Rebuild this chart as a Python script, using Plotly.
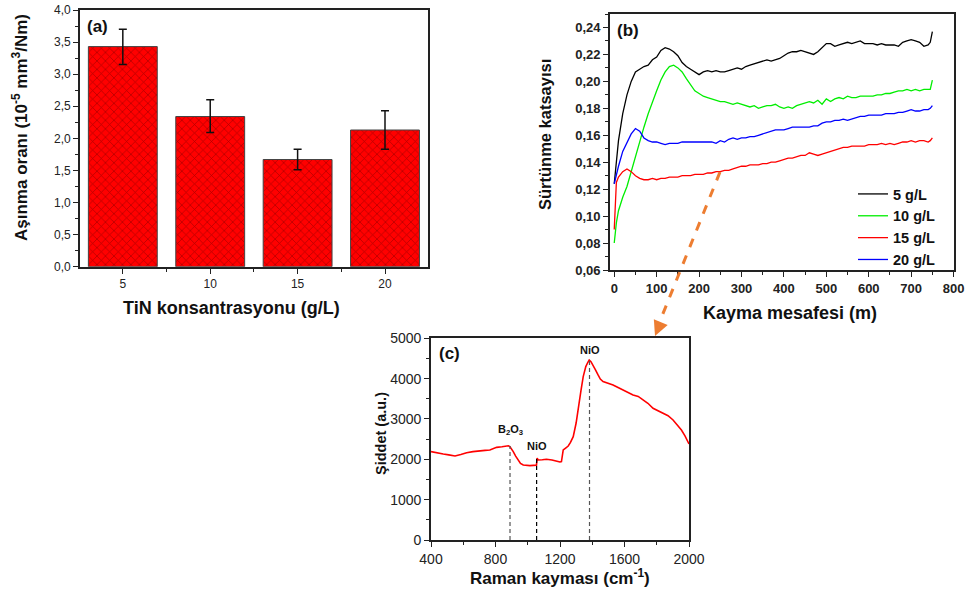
import plotly.graph_objects as go

# ---------------- data ----------------
# (a) wear rate
conc = [5, 10, 15, 20]
wear_rate = [3.43, 2.34, 1.67, 2.13]
wear_err_plus = [0.27, 0.26, 0.16, 0.30]
wear_err_minus = [0.28, 0.25, 0.16, 0.30]

# (b) friction coefficient vs sliding distance
dist = [0, 5, 10, 20, 30, 40, 50, 60, 70, 80, 90, 100, 110, 120, 130, 140, 150, 160, 170, 180,
        190, 200, 210, 220, 230, 240, 250, 260, 270, 280, 290, 300, 310, 320, 330, 340, 350, 360,
        370, 380, 390, 400, 410, 420, 430, 440, 450, 460, 470, 480, 490, 500, 510, 520, 530, 540,
        550, 560, 570, 580, 590, 600, 610, 620, 630, 640, 650, 660, 670, 680, 690, 700, 710, 720,
        730, 740, 745, 750]
mu_5 = [0.124, 0.142, 0.156, 0.176, 0.190, 0.200, 0.207, 0.209, 0.211, 0.212, 0.216, 0.218, 0.223,
        0.225, 0.224, 0.222, 0.219, 0.214, 0.211, 0.209, 0.207, 0.205, 0.207, 0.208, 0.207, 0.208,
        0.207, 0.207, 0.208, 0.209, 0.210, 0.209, 0.211, 0.212, 0.213, 0.214, 0.215, 0.216, 0.215,
        0.216, 0.217, 0.219, 0.221, 0.222, 0.222, 0.223, 0.222, 0.221, 0.220, 0.222, 0.225, 0.228,
        0.228, 0.226, 0.227, 0.228, 0.229, 0.228, 0.229, 0.230, 0.228, 0.228, 0.228, 0.227, 0.228,
        0.227, 0.227, 0.227, 0.226, 0.229, 0.230, 0.231, 0.230, 0.229, 0.226, 0.227, 0.229, 0.237]
mu_10 = [0.080, 0.095, 0.104, 0.114, 0.122, 0.133, 0.145, 0.156, 0.166, 0.176, 0.185, 0.193, 0.201,
         0.207, 0.211, 0.212, 0.210, 0.207, 0.202, 0.197, 0.193, 0.191, 0.189, 0.188, 0.187, 0.186,
         0.185, 0.185, 0.184, 0.183, 0.184, 0.183, 0.182, 0.181, 0.182, 0.180, 0.181, 0.182, 0.182,
         0.183, 0.181, 0.180, 0.181, 0.180, 0.182, 0.183, 0.184, 0.185, 0.184, 0.186, 0.183, 0.187,
         0.185, 0.187, 0.188, 0.187, 0.189, 0.188, 0.188, 0.189, 0.189, 0.189, 0.189, 0.190, 0.190,
         0.191, 0.191, 0.192, 0.193, 0.193, 0.194, 0.193, 0.194, 0.193, 0.194, 0.194, 0.194, 0.201]
mu_15 = [0.090, 0.125, 0.129, 0.133, 0.135, 0.133, 0.130, 0.128, 0.127, 0.127, 0.128, 0.127, 0.128,
         0.128, 0.129, 0.129, 0.129, 0.130, 0.130, 0.130, 0.131, 0.131, 0.131, 0.132, 0.132, 0.133,
         0.133, 0.134, 0.134, 0.135, 0.136, 0.137, 0.137, 0.138, 0.138, 0.138, 0.139, 0.139, 0.140,
         0.140, 0.141, 0.142, 0.143, 0.143, 0.144, 0.145, 0.145, 0.147, 0.146, 0.145, 0.146, 0.147,
         0.148, 0.149, 0.150, 0.151, 0.151, 0.152, 0.152, 0.152, 0.152, 0.153, 0.153, 0.153, 0.154,
         0.153, 0.154, 0.153, 0.154, 0.155, 0.155, 0.156, 0.155, 0.156, 0.156, 0.155, 0.156, 0.158]
mu_20 = [0.124, 0.131, 0.137, 0.148, 0.155, 0.161, 0.165, 0.163, 0.158, 0.156, 0.155, 0.155, 0.154,
         0.153, 0.154, 0.154, 0.154, 0.155, 0.155, 0.155, 0.155, 0.155, 0.155, 0.155, 0.155, 0.154,
         0.156, 0.155, 0.157, 0.158, 0.157, 0.158, 0.158, 0.159, 0.159, 0.160, 0.161, 0.162, 0.163,
         0.164, 0.164, 0.164, 0.165, 0.166, 0.166, 0.166, 0.166, 0.166, 0.167, 0.167, 0.169, 0.170,
         0.170, 0.171, 0.171, 0.172, 0.171, 0.172, 0.173, 0.174, 0.174, 0.175, 0.175, 0.175, 0.175,
         0.176, 0.176, 0.176, 0.177, 0.177, 0.178, 0.179, 0.178, 0.178, 0.179, 0.179, 0.180, 0.182]
series_names = ["5 g/L", "10 g/L", "15 g/L", "20 g/L"]
series_colors = ["#000000", "#00EE00", "#FF0000", "#0000FF"]

# (c) Raman spectrum
raman_shift = [400, 440, 476, 510, 549, 585, 621, 660, 703, 735, 765, 790, 807, 840, 869, 880,
               889, 900, 910, 925, 941, 955, 972, 990, 1013, 1035, 1054, 1058, 1065, 1090, 1116,
               1150, 1178, 1200, 1209, 1215, 1220, 1235, 1251, 1265, 1282, 1300, 1313, 1330, 1344,
               1360, 1372, 1381, 1392, 1405, 1420, 1436, 1450, 1467, 1500, 1529, 1560, 1591, 1620,
               1653, 1685, 1715, 1745, 1777, 1810, 1839, 1870, 1901, 1930, 1953, 1975, 2000]
raman_int = [2190, 2150, 2132, 2110, 2083, 2120, 2165, 2190, 2215, 2222, 2231, 2260, 2297, 2310,
             2330, 2335, 2314, 2260, 2190, 2080, 1983, 1900, 1860, 1845, 1843, 1850, 1851, 2030,
             1983, 1990, 2000, 1985, 1950, 1935, 1942, 2150, 2231, 2280, 2330, 2420, 2562, 2900,
             3306, 3700, 4050, 4300, 4400, 4463, 4420, 4339, 4220, 4091, 3990, 3926, 3880, 3843,
             3780, 3719, 3660, 3595, 3560, 3471, 3390, 3264, 3200, 3157, 3080, 2975, 2850, 2727,
             2580, 2380]
peak_pos = [890, 1055, 1383]
peak_top = [2330, 2030, 4450]
peak_label = ["B<sub>2</sub>O<sub>3</sub>", "NiO", "NiO"]
peak_label_y = [2730, 2330, 4720]
peak_line_color = ["#555555", "#000000", "#555555"]

W, H = 970, 593
def px(x, y):
    return x / W, 1 - y / H

FONT = "Liberation Sans, Arial, sans-serif"
fig = go.Figure()

# ---------- (a) bars ----------
fig.add_trace(go.Bar(
    x=conc, y=wear_rate, width=3.94, xaxis="x", yaxis="y", showlegend=False,
    marker=dict(color="#FF0000", line=dict(color="#444444", width=1),
                pattern=dict(shape="x", fgcolor="#5a0000", bgcolor="#FF0000", size=6, solidity=0.22)),
    error_y=dict(type="data", symmetric=False, array=wear_err_plus, arrayminus=wear_err_minus,
                 color="#111111", thickness=1.5, width=4),
))

# ---------- (b) lines ----------
for ys, name, col in zip([mu_5, mu_10, mu_15, mu_20], series_names, series_colors):
    fig.add_trace(go.Scatter(x=dist, y=ys, mode="lines", name=name, xaxis="x2", yaxis="y2",
                             line=dict(color=col, width=1.3)))

# ---------- (c) Raman ----------
fig.add_trace(go.Scatter(x=raman_shift, y=raman_int, mode="lines", xaxis="x3", yaxis="y3",
                         showlegend=False, line=dict(color="#FF0000", width=1.6)))
for p, t, c in zip(peak_pos, peak_top, peak_line_color):
    fig.add_trace(go.Scatter(x=[p, p], y=[0, t], mode="lines", xaxis="x3", yaxis="y3",
                             showlegend=False, line=dict(color=c, width=1.2, dash="4px,3px")))

axis_common = dict(showline=True, linecolor="#222222", linewidth=1.8, mirror=True,
                   ticks="outside", tickcolor="#222222", ticklen=5, tickwidth=1.3,
                   showgrid=False, zeroline=False, automargin=False)
minor_common = dict(ticks="outside", ticklen=3, tickcolor="#222222", tickwidth=1, showgrid=False)

ax_a = px(80, 0)[0], px(428, 0)[0]
ay_a = px(0, 266.7)[1], px(0, 10)[1]
ax_b = px(610, 0)[0], px(954, 0)[0]
ay_b = px(0, 270)[1], px(0, 14)[1]
ax_c = px(431, 0)[0], px(689, 0)[0]
ay_c = px(0, 540)[1], px(0, 338.3)[1]

fig.update_layout(
    width=W, height=H, margin=dict(l=0, r=0, t=0, b=0, pad=0, autoexpand=False),
    paper_bgcolor="white", plot_bgcolor="white", separators=", ",
    font=dict(family=FONT, color="#222222"),
    xaxis=dict(domain=list(ax_a), anchor="y", range=[2.55, 22.46], tickvals=conc,
               tickfont=dict(size=12), minor=dict(tickvals=[7.5, 12.5, 17.5], **minor_common),
               **axis_common),
    yaxis=dict(domain=list(ay_a), anchor="x", range=[0, 4.0], dtick=0.5, tickformat=".1f",
               tickfont=dict(size=12), minor=dict(dtick=0.25, **minor_common), **axis_common),
    xaxis2=dict(domain=list(ax_b), anchor="y2", range=[-10, 801], dtick=100,
                tickfont=dict(size=13, weight="bold"), minor=dict(dtick=50, **minor_common),
                **axis_common),
    yaxis2=dict(domain=list(ay_b), anchor="x2", range=[0.06, 0.25], tick0=0.06, dtick=0.02,
                tickformat=".2f", tickfont=dict(size=13, weight="bold"),
                minor=dict(dtick=0.01, **minor_common), **axis_common),
    xaxis3=dict(domain=list(ax_c), anchor="y3", range=[400, 2000], dtick=400,
                tickfont=dict(size=14), minor=dict(dtick=200, **minor_common), **axis_common),
    yaxis3=dict(domain=list(ay_c), anchor="x3", range=[0, 5000], dtick=1000,
                tickfont=dict(size=14), minor=dict(dtick=500, **minor_common), **axis_common),
    legend=dict(x=px(853, 0)[0], y=px(0, 178)[1], xanchor="left", yanchor="top",
                bgcolor="rgba(0,0,0,0)", font=dict(size=14.5, weight="bold", color="#111111"),
                tracegroupgap=0, itemwidth=30),
)

ann = []
def add_text(x, y, text, size, angle=0, bold=True):
    xx, yy = px(x, y)
    ann.append(dict(x=xx, y=yy, xref="paper", yref="paper", text=(f"<b>{text}</b>" if bold else text),
                    showarrow=False, textangle=angle, xanchor="center", yanchor="middle",
                    font=dict(size=size, family=FONT, color="#111111")))

add_text(231, 308, "TiN konsantrasyonu (g/L)", 18)
add_text(20, 128, "Aşınma oranı (10<sup>-5</sup> mm<sup>3</sup>/Nm)", 17, -90)
add_text(790, 313, "Kayma mesafesi (m)", 18)
add_text(545, 135, "Sürtünme katsayısı", 16.5, -90)
add_text(560, 577, "Raman kayması (cm<sup>-1</sup>)", 17)
add_text(381, 434, "Şiddet (a.u.)", 14.5, -90)
add_text(97, 26, "(a)", 17)
add_text(628, 31, "(b)", 17)
add_text(449, 353, "(c)", 17)

for p, lab, ly in zip(peak_pos, peak_label, peak_label_y):
    ann.append(dict(x=p, y=ly, xref="x3", yref="y3", text=f"<b>{lab}</b>", showarrow=False,
                    xanchor="center", yanchor="middle", font=dict(size=11, family=FONT, color="#111111")))

# arrowhead of orange dashed connector
hx, hy = px(655, 336)
ann.append(dict(x=hx, y=hy, xref="paper", yref="paper", ax=5, ay=-12, axref="pixel", ayref="pixel",
                showarrow=True, arrowhead=2, arrowsize=1.2, arrowwidth=2.5, arrowcolor="#ED7D31", text=""))
fig.update_layout(annotations=ann)

sx, sy = px(720, 172)
ex, ey = px(658, 326)
fig.add_shape(type="line", xref="paper", yref="paper", x0=sx, y0=sy, x1=ex, y1=ey,
              line=dict(color="#ED7D31", width=3, dash="dash"))

fig.write_html("out.html", config={"displayModeBar": False},
               post_script="document.body.style.margin='0px';document.body.style.overflow='hidden';")
